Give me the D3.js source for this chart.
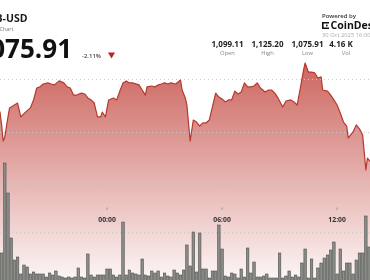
<!DOCTYPE html>
<html>
<head>
<meta charset="utf-8">
<script src="https://cdn.jsdelivr.net/npm/d3@7"></script>
<style>
html, body { margin: 0; padding: 0; background: #fff; overflow: hidden; }
svg { display: block; font-family: "Open Sans", sans-serif; will-change: transform; }
</style>
</head>
<body>
<div id="chart"></div>
<script>
// price closes (day hh:mm, Oct 2025)
const priceTimes = [
  "29 18:15","29 18:25","29 18:30","29 18:35","29 18:40","29 18:50","29 18:55","29 19:05","29 19:20","29 19:30",
  "29 19:45","29 20:00","29 20:10","29 20:20","29 20:30","29 20:40","29 20:55","29 21:05","29 21:15","29 21:30",
  "29 21:45","29 21:55","29 22:05","29 22:15","29 22:25","29 22:40","29 22:50","29 23:00","29 23:10","29 23:20",
  "29 23:30","29 23:40","29 23:45","29 23:55","30 00:05","30 00:20","30 00:30","30 00:40","30 00:50","30 01:00",
  "30 01:10","30 01:20","30 01:40","30 01:50","30 02:00","30 02:05","30 02:20","30 02:30","30 02:40","30 02:50",
  "30 03:00","30 03:10","30 03:20","30 03:35","30 03:50","30 03:55","30 04:05","30 04:10","30 04:20","30 04:30",
  "30 04:40","30 04:50","30 05:00","30 05:10","30 05:20","30 05:40","30 05:50","30 06:00","30 06:10","30 06:20",
  "30 06:30","30 06:40","30 06:50","30 07:00","30 07:10","30 07:20","30 07:30","30 07:40","30 07:50","30 08:00",
  "30 08:15","30 08:25","30 08:35","30 08:45","30 08:55","30 09:10","30 09:20","30 09:35","30 09:45","30 09:55",
  "30 10:05","30 10:15","30 10:20","30 10:30","30 10:40","30 10:50","30 11:00","30 11:10","30 11:15","30 11:30",
  "30 11:40","30 11:50","30 12:00","30 12:10","30 12:20","30 12:30","30 12:35","30 12:50","30 13:00","30 13:10",
  "30 13:20","30 13:30","30 13:35","30 13:45","30 13:50"
];
const priceValues = [
  1104.9,1103.0,1097.2,1089.9,1091.7,1100.8,1104.9,1105.8,1107.1,1100.8,
  1103.0,1104.9,1108.5,1113.9,1114.4,1115.7,1116.2,1115.7,1115.3,1117.1,
  1116.2,1114.4,1113.9,1110.7,1110.7,1111.6,1111.2,1109.4,1108.5,1107.1,
  1100.8,1100.8,1103.0,1100.8,1108.5,1109.4,1108.5,1112.5,1116.2,1117.1,
  1116.2,1116.2,1115.3,1113.0,1110.7,1114.4,1114.8,1114.4,1115.3,1115.7,
  1116.2,1115.7,1116.2,1115.7,1117.5,1113.0,1109.4,1106.2,1089.9,1099.4,
  1098.5,1096.7,1098.1,1098.1,1099.4,1111.6,1109.8,1108.9,1107.6,1108.5,
  1108.5,1112.5,1111.2,1112.1,1116.2,1114.4,1114.4,1114.8,1116.2,1113.9,
  1112.1,1113.0,1113.0,1111.6,1109.4,1105.3,1108.0,1108.5,1107.6,1106.2,
  1113.9,1122.0,1125.2,1121.1,1121.1,1120.7,1118.4,1118.9,1113.0,1112.5,
  1110.7,1108.5,1106.2,1102.6,1098.5,1096.7,1091.3,1094.0,1097.2,1095.4,
  1092.6,1076.8,1082.2,1080.4,1078.5
];

// 10 minute volume bars starting 29 Oct 18:30
const volumeStart = "29 18:30";
const volumeStep = 10;
const volumeValues = [
  28,118,88,43,21,24,7,16,14,7, 9,7,7,7,4,8,6,10,5,4,
  3,4,3,4,13,4,3,27,6,4, 6,6,6,12,12,6,4,6,59,6,
  11,8,7,6,22,6,5,10,8,10, 4,8,5,4,11,8,6,11,36,15,
  49,9,48,12,12,3,10,10,56,32, 5,4,8,7,3,12,4,33,8,19,
  4,4,5,7,3,3,3,28,3,5, 10,4,6,4,18,32,3,22,3,13,
  18,23,26,31,39,7,32,10,18,18, 7,21,28,28,65,34
];

const gridPrices = [1118, 1094, 1070.5, 1049];

const statValues = ["1,099.11", "1,125.20", "1,075.91", "4.16 K"];
const statLabels = ["Open", "High", "Low", "Vol"];

const W = 370, H = 280;
const parseTime = s => d3.timeParse("%Y-%m-%d %H:%M")("2025-10-" + s);

const prices = priceTimes.map((t, i) => ({t: parseTime(t), p: priceValues[i]}));
const v0 = parseTime(volumeStart);
const volumes = volumeValues.map((v, i) => ({t: d3.timeMinute.offset(v0, i * volumeStep), v: v}));

const svg = d3.select('#chart')
    .append('svg')
    .attr('width', W)
    .attr('height', H);

// scales
const x = d3.scaleTime()
    .domain([parseTime("29 18:25"), parseTime("30 13:43")])
    .range([0, W]);

const y = d3.scaleLinear()
    .domain([1075.91, 1125.20])
    .range([172, 63]);

const yVol = d3.scaleLinear()
    .domain([0, d3.max(volumeValues)])
    .range([281, 163]);

// gradient for the price area
const defs = svg.append('defs');
const grad = defs.append('linearGradient')
    .attr('id', 'areaGrad')
    .attr('gradientUnits', 'userSpaceOnUse')
    .attr('x1', 0).attr('y1', y(1125.2))
    .attr('x2', 0).attr('y2', H);
grad.append('stop').attr('offset', '0%').attr('stop-color', '#c44a43').attr('stop-opacity', 0.85);
grad.append('stop').attr('offset', '100%').attr('stop-color', '#c44a43').attr('stop-opacity', 0.05);

const area = d3.area()
    .x(d => x(d.t))
    .y0(H)
    .y1(d => y(d.p));

svg.append('path')
    .datum(prices)
    .attr('d', area)
    .attr('fill', 'url(#areaGrad)');

// dotted grid
svg.selectAll('.grid')
    .data(gridPrices)
    .enter()
    .append('line')
    .attr('class', 'grid')
    .attr('x1', 0)
    .attr('x2', W)
    .attr('y1', d => Math.round(y(d)) + 0.5)
    .attr('y2', d => Math.round(y(d)) + 0.5)
    .attr('stroke', '#c9c9c9')
    .attr('stroke-dasharray', '1,3');

// volume bars
const barW = 2.5;
svg.selectAll('.vol')
    .data(volumes)
    .enter()
    .append('rect')
    .attr('class', 'vol')
    .attr('x', d => x(d.t) - barW / 2)
    .attr('y', d => yVol(d.v))
    .attr('width', barW)
    .attr('height', d => yVol(0) - yVol(d.v))
    .attr('fill', '#8a8c88')
    .attr('stroke', '#4f524e')
    .attr('stroke-width', 0.6);

// price line
const line = d3.line()
    .x(d => x(d.t))
    .y(d => y(d.p));

svg.append('path')
    .datum(prices)
    .attr('d', line)
    .attr('fill', 'none')
    .attr('stroke', '#b5392f')
    .attr('stroke-width', 1.2)
    .attr('stroke-linejoin', 'round');

// time axis labels
const ticks = x.ticks(d3.timeHour.every(6));
const fmt = d3.timeFormat('%H:%M');
const tickG = svg.selectAll('.tick')
    .data(ticks)
    .enter()
    .append('g')
    .attr('class', 'tick')
    .attr('transform', d => `translate(${x(d)},0)`);
tickG.append('line')
    .attr('y1', 207.5).attr('y2', 210)
    .attr('stroke', '#888')
    .attr('stroke-width', 0.8);
tickG.append('text')
    .attr('y', 222)
    .attr('text-anchor', 'middle')
    .attr('fill', '#333')
    .style('font-size', '6.8px')
    .style('font-weight', 700)
    .text(d => fmt(d));

// header
svg.append('text')
    .attr('x', 27.5).attr('y', 21.5)
    .attr('text-anchor', 'end')
    .attr('fill', '#1a1a1a')
    .style('font-size', '10.5px')
    .style('font-weight', 700)
    .text('BNB-USD');

svg.append('text')
    .attr('x', 13.5).attr('y', 31)
    .attr('text-anchor', 'end')
    .attr('fill', '#777')
    .style('font-size', '5.5px')
    .text('BNB Price Chart');

svg.append('text')
    .attr('x', 72).attr('y', 58)
    .attr('text-anchor', 'end')
    .attr('fill', '#111')
    .style('font-size', '26px')
    .style('font-weight', 700)
    .text(statValues[2]);

svg.append('text')
    .attr('x', 82).attr('y', 57.5)
    .attr('fill', '#444')
    .style('font-size', '6px')
    .style('font-weight', 600)
    .text('-2.11%');

svg.append('path')
    .attr('d', d3.symbol(d3.symbolTriangle, 22)())
    .attr('transform', 'translate(111.5,54.5) rotate(180)')
    .attr('fill', '#b8281e');

// stats
const statX = [227.5, 267.5, 307.5, 341];
statValues.forEach((v, i) => {
    svg.append('text')
        .attr('x', statX[i]).attr('y', 47.3)
        .attr('text-anchor', 'middle')
        .attr('fill', '#222')
        .style('font-size', '8px')
        .style('font-weight', 700)
        .text(v);
    svg.append('text')
        .attr('x', statX[i] + (i === 3 ? 5 : 0)).attr('y', 54.5)
        .attr('text-anchor', 'middle')
        .attr('fill', '#888')
        .style('font-size', '5.8px')
        .text(statLabels[i]);
});

// powered by CoinDesk
svg.append('text')
    .attr('x', 322).attr('y', 17.5)
    .attr('fill', '#333')
    .style('font-size', '6px')
    .style('font-weight', 600)
    .text('Powered by');

const logo = svg.append('g').attr('transform', 'translate(322,22)');
logo.append('path')
    .attr('d', 'M0,0H7V1.6H1.6V5.4H7V7H0Z')
    .attr('fill', '#111');
logo.append('rect').attr('x', 4).attr('y', 2.7).attr('width', 1.6).attr('height', 1.6).attr('fill', '#111');

svg.append('text')
    .attr('x', 330.5).attr('y', 29)
    .attr('fill', '#111')
    .style('font-size', '10.5px')
    .style('font-weight', 700)
    .text('CoinDesk');

svg.append('text')
    .attr('x', 322).attr('y', 37)
    .attr('fill', '#aaa')
    .style('font-size', '5.8px')
    .text('30 Oct 2025 16:00 UTC');
</script>
</body>
</html>
